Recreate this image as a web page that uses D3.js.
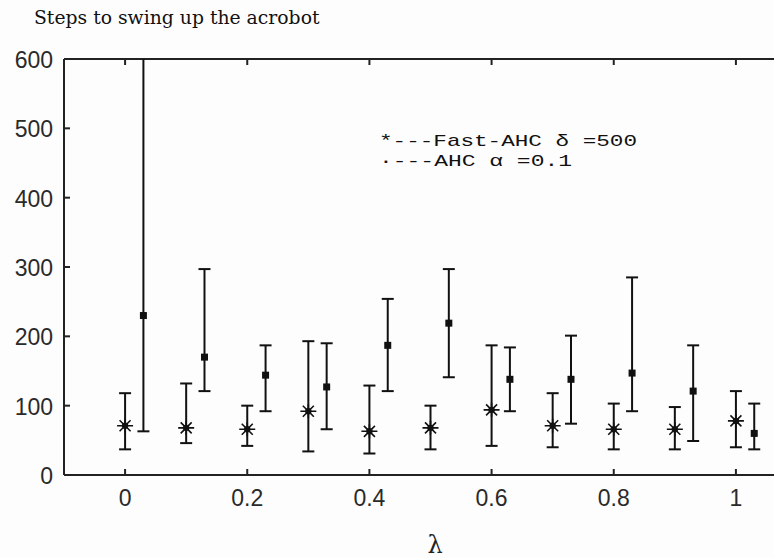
<!DOCTYPE html>
<html>
<head>
<meta charset="utf-8">
<script src="https://cdn.jsdelivr.net/npm/d3@7"></script>
<style>
body { margin: 0; background: #fdfdfd; }
svg { display: block; }
.tick-label { font-family: "Liberation Sans", Arial, sans-serif; font-size: 23px; fill: #2a2a2a; }
</style>
</head>
<body>
<div id="chart"></div>
<script>
let lambdas = [0, 0.1, 0.2, 0.3, 0.4, 0.5, 0.6, 0.7, 0.8, 0.9, 1.0];
let offset = 0.03;

// Fast-AHC (stars)
let fastMean = [71, 68, 66, 92, 63, 68, 94, 71, 66, 66, 78];
let fastLow  = [37, 46, 42, 34, 31, 37, 42, 40, 37, 37, 40];
let fastHigh = [118, 132, 100, 193, 129, 100, 187, 118, 103, 98, 121];

// AHC (dots)
let ahcMean = [230, 170, 144, 127, 187, 219, 138, 138, 147, 121, 60];
let ahcLow  = [63, 121, 92, 66, 121, 141, 92, 74, 92, 49, 37];
let ahcHigh = [620, 297, 187, 190, 254, 297, 184, 201, 285, 187, 103];

let xTicks = [0, 0.2, 0.4, 0.6, 0.8, 1];
let yTicks = [0, 100, 200, 300, 400, 500, 600];

let width = 774, height = 558;
let margin = {left: 64, top: 59, bottom: 475};

let svg = d3.select("#chart").append("svg")
    .attr("width", width)
    .attr("height", height);

let x = d3.scaleLinear().domain([-0.1, 1.1]).range([margin.left, 797]);
let y = d3.scaleLinear().domain([0, 600]).range([margin.bottom, margin.top]);

svg.append("defs").append("clipPath").attr("id", "plot")
    .append("rect")
    .attr("x", margin.left).attr("y", margin.top)
    .attr("width", 800).attr("height", margin.bottom - margin.top);

// title
svg.append("text")
    .attr("x", 34).attr("y", 24)
    .style("font-family", "'DejaVu Serif', 'Liberation Serif', serif")
    .style("font-size", "18.8px")
    .attr("fill", "#111")
    .text("Steps to swing up the acrobot");

// frame
let frame = svg.append("g").attr("stroke", "#222").attr("stroke-width", 2).attr("fill", "none");
frame.append("line").attr("x1", margin.left).attr("x2", width).attr("y1", y(0)).attr("y2", y(0));
frame.append("line").attr("x1", margin.left).attr("x2", width).attr("y1", y(600)).attr("y2", y(600));
frame.append("line").attr("x1", margin.left).attr("x2", margin.left).attr("y1", y(0)).attr("y2", y(600));

// x ticks (inside, bottom and top)
xTicks.forEach(function(t) {
    frame.append("line").attr("x1", x(t)).attr("x2", x(t)).attr("y1", y(0)).attr("y2", y(0) - 6);
    frame.append("line").attr("x1", x(t)).attr("x2", x(t)).attr("y1", y(600)).attr("y2", y(600) + 6);
    svg.append("text").attr("class", "tick-label")
        .attr("x", x(t)).attr("y", 506)
        .attr("text-anchor", "middle")
        .text(t);
});

// y ticks
yTicks.forEach(function(t) {
    frame.append("line").attr("x1", margin.left).attr("x2", margin.left + 6).attr("y1", y(t)).attr("y2", y(t));
    svg.append("text").attr("class", "tick-label")
        .attr("x", 53).attr("y", y(t) + 9)
        .attr("text-anchor", "end")
        .text(t);
});

// x label
svg.append("text")
    .attr("x", 435).attr("y", 553)
    .attr("text-anchor", "middle")
    .style("font-family", "'DejaVu Serif', serif")
    .style("font-size", "24px")
    .attr("fill", "#222")
    .text("λ");

let plot = svg.append("g").attr("clip-path", "url(#plot)");

function errorBars(xs, lo, hi, dx) {
    let g = plot.append("g").attr("stroke", "#111").attr("stroke-width", 2);
    xs.forEach(function(l, i) {
        let cx = x(l + dx);
        g.append("line").attr("x1", cx).attr("x2", cx).attr("y1", y(lo[i])).attr("y2", y(hi[i]));
        g.append("line").attr("x1", cx - 6).attr("x2", cx + 6).attr("y1", y(lo[i])).attr("y2", y(lo[i]));
        g.append("line").attr("x1", cx - 6).attr("x2", cx + 6).attr("y1", y(hi[i])).attr("y2", y(hi[i]));
    });
}

errorBars(lambdas, fastLow, fastHigh, 0);
errorBars(lambdas, ahcLow, ahcHigh, offset);

// star markers: dense centre with eight spokes
let stars = plot.selectAll(".star")
    .data(lambdas)
    .enter().append("g")
    .attr("class", "star")
    .attr("transform", function(d, i) { return "translate(" + x(d) + "," + y(fastMean[i]) + ")"; })
    .attr("stroke", "#111")
    .attr("stroke-width", 1.6);
stars.append("path").attr("d", "M-8,0H8M0,-7V7M-5.5,-5.5L5.5,5.5M-5.5,5.5L5.5,-5.5");
stars.append("circle").attr("r", 3.2).attr("fill", "#111").attr("stroke", "none");

plot.selectAll(".dot")
    .data(lambdas)
    .enter().append("rect")
    .attr("class", "dot")
    .attr("x", function(d) { return x(d + offset) - 3.5; })
    .attr("y", function(d, i) { return y(ahcMean[i]) - 3.5; })
    .attr("width", 7)
    .attr("height", 7)
    .attr("fill", "#111");

// legend
let legend = svg.append("g")
    .style("font-family", "'Liberation Mono', 'DejaVu Sans Mono', monospace")
    .style("font-size", "17px")
    .attr("fill", "#111");

legend.append("text").attr("x", 379).attr("y", 146)
    .attr("textLength", 258).attr("lengthAdjust", "spacingAndGlyphs")
    .text("*---Fast-AHC δ =500");
legend.append("text").attr("x", 379).attr("y", 166)
    .attr("textLength", 193).attr("lengthAdjust", "spacingAndGlyphs")
    .text("·---AHC α =0.1");
</script>
</body>
</html>
